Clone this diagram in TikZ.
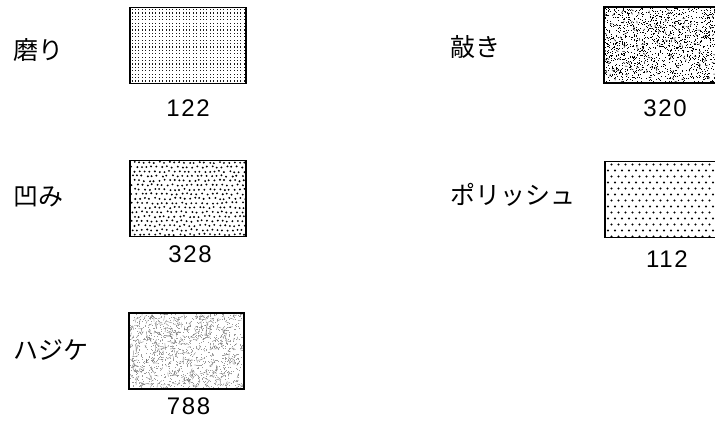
\documentclass[tikz,border=0pt]{standalone}
\usepackage{fontspec}
\setmainfont{Liberation Sans}
\newfontfamily\jpfont{Noto Sans CJK JP}
\newfontfamily\numfont[LetterSpace=7]{Liberation Sans}
\usetikzlibrary{positioning}

\tikzset{
  swatch/.style={line width=1.3pt, minimum width=116pt, minimum height=76pt, inner sep=0pt, outer sep=0pt},
  defect/.style={anchor=west, inner sep=0pt, font=\jpfont\fontsize{25}{25}\selectfont},
  count/.style={inner sep=0pt, font=\numfont\fontsize{24}{24}\selectfont}
}

\begin{document}
\begin{tikzpicture}[x=1pt, y=-1pt]
  \useasboundingbox (0,0) rectangle (715,423);
  \pgfmathsetseed{11}

  % swatches
  \node[swatch] (migaki) at (188,45.5) {};
  \node[swatch] (tataki) at (662,45) {};
  \node[swatch] (hekomi) at (188,198.5) {};
  \node[swatch] (polish) at (663,199.5) {};
  \node[swatch, minimum width=115pt] (hajike) at (186.5,351) {};

  % textures
  \begin{scope}
    \clip (migaki.north west) rectangle (migaki.south east);
    \foreach \x in {1.5,4.9,...,117} \foreach \y in {1.5,4.9,...,78}
      \fill[black!90] ([shift={(\x,\y)}]migaki.north west) rectangle ++(1.1,1.1);
  \end{scope}

  \begin{scope}
    \clip (tataki.north west) rectangle (tataki.south east);
    \foreach \i in {1,...,1400}
      \fill ([shift={({rnd*116},{rnd*76})}]tataki.north west) rectangle ++(0.9,0.9);
    \foreach \i in {1,...,140}
      \draw[line width=0.5pt] ([shift={({rnd*116},{rnd*76})}]tataki.north west) -- ++({rnd*360}:2.5);
  \end{scope}

  \begin{scope}
    \clip (hekomi.north west) rectangle (hekomi.south east);
    \foreach \y [count=\row] in {2,6.5,...,78} \foreach \x in {2,7,...,120}
      \fill ([shift={({\x+2.5*mod(\row,2)+1*rand},{\y+0.8*rand})}]hekomi.north west) circle (1.05);
  \end{scope}

  \begin{scope}
    \clip (polish.north west) rectangle (polish.south east);
    \foreach \y [count=\row] in {3,9,...,76} \foreach \x in {3,10,...,117}
      \fill ([shift={({\x+3.5*mod(\row,2)},\y)}]polish.north west) circle (1.05);
  \end{scope}

  \begin{scope}
    \clip (hajike.north west) rectangle (hajike.south east);
    \foreach \i in {1,...,900}
      \fill[black!40] ([shift={({rnd*115},{rnd*76})}]hajike.north west) rectangle ++(0.7,0.7);
    \foreach \i in {1,...,380}
      \draw[black!55, line width=0.35pt] ([shift={({rnd*115},{rnd*76})}]hajike.north west) -- ++({rnd*360}:{2+rnd*4});
  \end{scope}

  % frames
  \foreach \s in {migaki,tataki,hekomi,polish,hajike}
    \draw[line width=1.3pt] (\s.north west) rectangle (\s.south east);

  % names
  \node[defect] (migakiname) at (13,50) {磨り};
  \node[defect] (tatakiname) at (450,47) {敲き};
  \node[defect] (hekominame) at (13,197) {凹み};
  \node[defect] (polishname) at (450,195) {ポリッシュ};
  \node[defect] (hajikename) at (13,350) {ハジケ};

  % counts
  \node[count, below=16pt of migaki] (migakinum) {122};
  \node[count, below=17pt of tataki, xshift=3pt] (tatakinum) {320};
  \node[count, below=9pt of hekomi, xshift=2pt] (hekominum) {328};
  \node[count, below=13pt of polish, xshift=4pt] (polishnum) {112};
  \node[count, below=9pt of hajike, xshift=2pt] (hajikenum) {788};
\end{tikzpicture}
\end{document}
